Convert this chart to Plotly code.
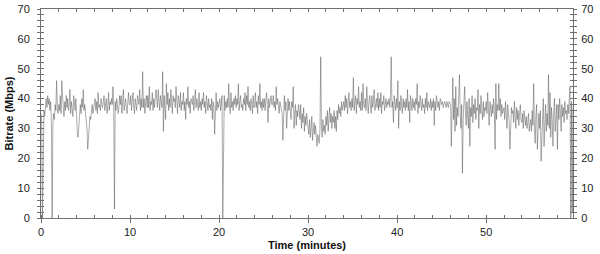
import numpy as np
import plotly.graph_objects as go

SAMPLES_PER_MIN = 12

bitrate_00_10 = [
    35, 32, 0, 30, 36, 34, 38, 40, 37, 41, 38, 40,
    36, 39, 33, 0, 31, 35, 33, 38, 36, 46, 37, 35,
    38, 36, 41, 35, 46, 39, 37, 34, 39, 36, 41, 37,
    40, 36, 38, 43, 35, 39, 37, 34, 41, 38, 36, 40,
    33, 28, 27, 31, 36, 38, 35, 40, 37, 43, 36, 38,
    35, 33, 30, 23, 27, 31, 34, 33, 36, 38, 35, 37,
    37, 40, 36, 39, 35, 42, 37, 38, 36, 40, 38, 37,
    39, 41, 36, 38, 40, 35, 37, 42, 36, 39, 38, 40,
    38, 44, 37, 3, 39, 36, 40, 38, 35, 37, 41, 38,
    41, 35, 39, 43, 36, 38, 40, 37, 35, 39, 42, 38,
]
bitrate_10_20 = [
    38, 41, 36, 39, 42, 37, 35, 40, 38, 36, 41, 39,
    38, 43, 36, 40, 37, 49, 37, 40, 35, 39, 41, 37,
    41, 37, 44, 36, 39, 38, 42, 36, 40, 37, 39, 43,
    40, 37, 43, 38, 36, 41, 39, 37, 49, 29, 41, 38,
    33, 45, 38, 42, 36, 40, 37, 43, 38, 35, 41, 39,
    40, 37, 44, 38, 35, 41, 39, 37, 42, 36, 39, 38,
    42, 36, 39, 33, 40, 38, 44, 37, 39, 35, 40, 38,
    38, 41, 36, 39, 43, 37, 40, 38, 36, 42, 37, 39,
    36, 40, 38, 42, 37, 39, 35, 41, 38, 36, 40, 37,
    38, 36, 40, 33, 39, 37, 28, 34, 42, 36, 39, 37,
]
bitrate_20_30 = [
    38, 40, 36, 38, 41, 0, 38, 41, 36, 39, 37, 40,
    37, 45, 38, 35, 42, 37, 39, 36, 40, 38, 41, 37,
    40, 38, 45, 36, 39, 41, 37, 38, 36, 40, 38, 42,
    36, 41, 38, 44, 37, 39, 36, 40, 38, 35, 41, 37,
    38, 42, 37, 39, 35, 41, 38, 45, 37, 39, 36, 40,
    37, 40, 36, 39, 42, 38, 32, 40, 37, 39, 41, 38,
    38, 41, 37, 39, 36, 44, 38, 40, 37, 35, 39, 38,
    37, 35, 26, 33, 41, 36, 39, 30, 38, 40, 36, 39,
    36, 33, 39, 37, 44, 30, 35, 38, 31, 36, 34, 38,
    36, 33, 38, 30, 35, 32, 37, 29, 34, 31, 35, 33,
]
bitrate_30_40 = [
    31, 28, 33, 27, 30, 34, 26, 29, 32, 28, 31, 27,
    24, 28, 26, 25, 30, 54, 30, 27, 33, 29, 31, 28,
    34, 31, 36, 29, 33, 37, 32, 35, 30, 34, 32, 36,
    30, 34, 29, 36, 33, 38, 35, 37, 34, 39, 36, 38,
    39, 36, 41, 37, 40, 35, 38, 42, 37, 39, 36, 40,
    37, 47, 36, 39, 41, 35, 40, 38, 44, 37, 39, 36,
    42, 36, 45, 38, 37, 40, 36, 44, 38, 35, 39, 41,
    38, 35, 41, 37, 39, 43, 36, 38, 40, 37, 42, 36,
    40, 37, 42, 35, 39, 38, 41, 36, 38, 40, 37, 39,
    38, 40, 37, 41, 54, 37, 39, 32, 41, 38, 36, 40,
]
bitrate_40_50 = [
    37, 46, 30, 39, 36, 41, 38, 35, 40, 37, 39, 36,
    40, 37, 43, 36, 39, 32, 41, 38, 36, 40, 37, 39,
    36, 40, 38, 45, 35, 39, 37, 41, 38, 36, 40, 37,
    38, 35, 40, 37, 42, 36, 39, 38, 37, 40, 36, 39,
    37, 40, 31, 39, 36, 41, 38, 37, 39, 36, 40, 38,
    38, 39, 37, 38, 39, 38, 37, 39, 38, 37, 39, 38,
    38, 24, 35, 47, 33, 40, 29, 44, 31, 37, 34, 40,
    48, 35, 30, 38, 15, 33, 38, 44, 36, 31, 39, 35,
    30, 40, 24, 37, 34, 41, 32, 38, 35, 40, 33, 37,
    36, 43, 30, 38, 35, 41, 37, 33, 39, 34, 37, 36,
]
bitrate_50_60 = [
    39, 35, 42, 36, 31, 39, 37, 34, 38, 35, 40, 36,
    23, 45, 33, 38, 36, 45, 36, 40, 34, 38, 35, 37,
    37, 33, 39, 35, 30, 38, 36, 32, 23, 34, 37, 35,
    36, 32, 39, 34, 30, 37, 33, 36, 31, 35, 38, 33,
    32, 35, 30, 36, 33, 31, 34, 30, 32, 35, 29, 33,
    33, 29, 36, 31, 45, 31, 25, 34, 38, 23, 30, 35,
    30, 36, 19, 28, 36, 40, 24, 33, 38, 29, 35, 31,
    48, 30, 42, 27, 37, 33, 24, 35, 40, 29, 36, 38,
    23, 38, 33, 40, 36, 29, 38, 34, 37, 32, 39, 35,
    36, 33, 38, 35, 40, 44, 0, 39, 2, 37,
]

bitrate = (bitrate_00_10 + bitrate_10_20 + bitrate_20_30
           + bitrate_30_40 + bitrate_40_50 + bitrate_50_60)
time_min = np.arange(len(bitrate)) / SAMPLES_PER_MIN

x_ticks = [0, 10, 20, 30, 40, 50]
y_ticks = [0, 10, 20, 30, 40, 50, 60, 70]
x_title = "Time (minutes)"
y_title = "Bitrate (Mbps)"

FONT = "Liberation Sans, Arial, sans-serif"
AX = "#707070"
TXT = "#222222"

fig = go.Figure()
fig.add_trace(go.Scatter(
    x=time_min, y=bitrate, mode="lines",
    line=dict(color="rgba(80,80,80,0.8)", width=0.6),
    showlegend=False, hoverinfo="skip",
))
fig.add_trace(go.Scatter(x=[None], y=[None], xaxis="x2", yaxis="y2",
                         showlegend=False, hoverinfo="skip"))

common_y = dict(range=[0, 70], tickvals=y_ticks, showline=True, linecolor=AX,
                linewidth=1, tickcolor=AX, ticklen=3, tickwidth=1,
                showgrid=False, zeroline=False, automargin=False,
                ticklabelstandoff=5,
                tickfont=dict(family=FONT, size=11, color=TXT))

fig.update_layout(
    width=600, height=254,
    margin=dict(l=41, r=27, t=9, b=36),
    paper_bgcolor="white", plot_bgcolor="white",
    font=dict(family=FONT, size=11, color=TXT),
    xaxis=dict(range=[0, 59.75], tickvals=x_ticks, showline=True, linecolor=AX,
               linewidth=1, ticks="outside", ticklen=4, tickcolor=AX,
               showgrid=False, zeroline=False, mirror=True, automargin=False,
               tickfont=dict(family=FONT, size=11, color=TXT),
               minor=dict(dtick=2, tick0=0, ticks="inside", ticklen=3,
                          tickcolor=AX, tickwidth=1)),
    xaxis2=dict(range=[0, 59.75], overlaying="x", side="top", tickvals=x_ticks,
                showticklabels=False, ticks="inside", ticklen=3, tickcolor=AX,
                showline=False, showgrid=False, zeroline=False, automargin=False,
                minor=dict(dtick=2, tick0=0, ticks="inside", ticklen=3,
                           tickcolor=AX, tickwidth=1)),
    yaxis=dict(**common_y, side="left", ticks="outside", mirror="ticks",
               minor=dict(dtick=2, tick0=0, ticks="outside", ticklen=3,
                          tickcolor=AX, tickwidth=1)),
    yaxis2=dict(**common_y, side="right", overlaying="y", ticks="inside",
                mirror="ticks", anchor="x",
                minor=dict(dtick=2, tick0=0, ticks="inside", ticklen=3,
                           tickcolor=AX, tickwidth=1)),
    annotations=[
        dict(text="<b>" + x_title + "</b>", xref="paper", yref="paper",
             x=0.5, y=0, yshift=-27, xanchor="center", yanchor="middle",
             showarrow=False, font=dict(family=FONT, size=11, color="#111")),
        dict(text="<b>" + y_title + "</b>", xref="paper", yref="paper",
             x=0, y=0.5, xshift=-33, textangle=-90, xanchor="center",
             yanchor="middle", showarrow=False,
             font=dict(family=FONT, size=11, color="#111")),
    ],
)

fig.write_html("out.html")
